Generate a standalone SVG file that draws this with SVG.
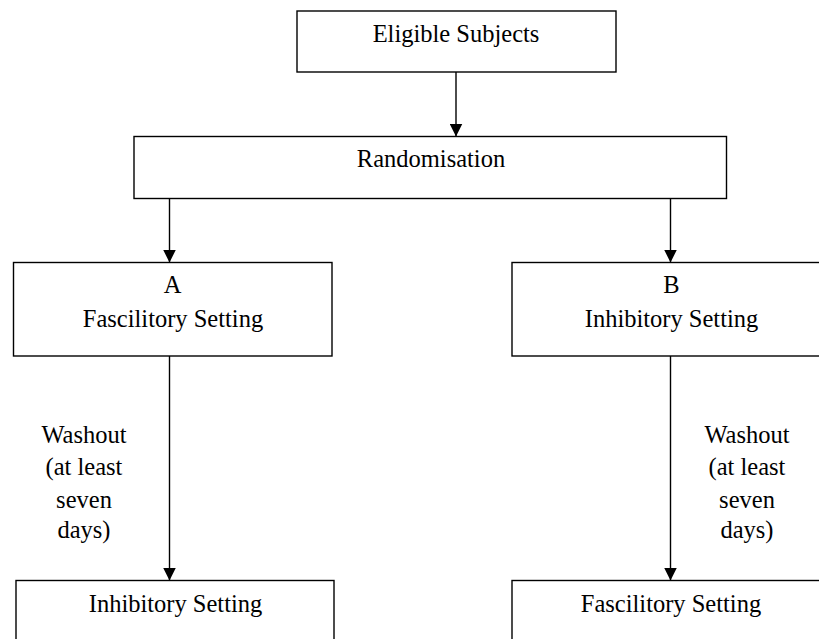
<svg xmlns="http://www.w3.org/2000/svg" width="819" height="639" viewBox="0 0 819 639">
<style>
.box{fill:#fff;stroke:#000;stroke-width:1.4}
.t{font-family:"Liberation Serif","Times New Roman",serif;font-size:24.5px;fill:#000;text-anchor:middle}
.c{stroke:#000;stroke-width:1.4;fill:none;marker-end:url(#ah)}
</style>
<defs>
<marker id="ah" markerWidth="13" markerHeight="13" refX="13" refY="6.5" orient="auto" markerUnits="userSpaceOnUse">
<path d="M0,0 L13,6.5 L0,13 Z" fill="#000"/>
</marker>
</defs>
<rect width="819" height="639" fill="#fff"/>
<g id="connectors">
<line class="c" x1="456" y1="72" x2="456" y2="136.5"/>
<line class="c" x1="169.5" y1="198.5" x2="169.5" y2="262.5"/>
<line class="c" x1="670.5" y1="198.5" x2="670.5" y2="262.5"/>
<line class="c" x1="169.5" y1="356" x2="169.5" y2="580.5"/>
<line class="c" x1="670.5" y1="356" x2="670.5" y2="580.5"/>
</g>
<g id="eligible">
<rect class="box" x="297" y="11" width="319" height="61"/>
<text class="t" x="456" y="42">Eligible Subjects</text>
</g>
<g id="randomisation">
<rect class="box" x="134" y="136.5" width="592.5" height="62"/>
<text class="t" x="431" y="167">Randomisation</text>
</g>
<g id="armA">
<rect class="box" x="13.5" y="262.5" width="318.5" height="93.5"/>
<text class="t" x="172.5" y="293">A</text>
<text class="t" x="173" y="327">Fascilitory Setting</text>
</g>
<g id="armB">
<rect class="box" x="512" y="262.5" width="318.5" height="93.5"/>
<text class="t" x="671.5" y="293">B</text>
<text class="t" x="671.5" y="327">Inhibitory Setting</text>
</g>
<g id="washoutA">
<text class="t" x="84" y="443">Washout</text>
<text class="t" x="84" y="475">(at least</text>
<text class="t" x="84" y="508">seven</text>
<text class="t" x="84" y="538">days)</text>
</g>
<g id="washoutB">
<text class="t" x="747" y="443">Washout</text>
<text class="t" x="747" y="475">(at least</text>
<text class="t" x="747" y="508">seven</text>
<text class="t" x="747" y="538">days)</text>
</g>
<g id="periodA2">
<rect class="box" x="16" y="580.5" width="318" height="80"/>
<text class="t" x="175.5" y="611.5">Inhibitory Setting</text>
</g>
<g id="periodB2">
<rect class="box" x="512" y="580.5" width="318.5" height="80"/>
<text class="t" x="671" y="611.5">Fascilitory Setting</text>
</g>
</svg>
